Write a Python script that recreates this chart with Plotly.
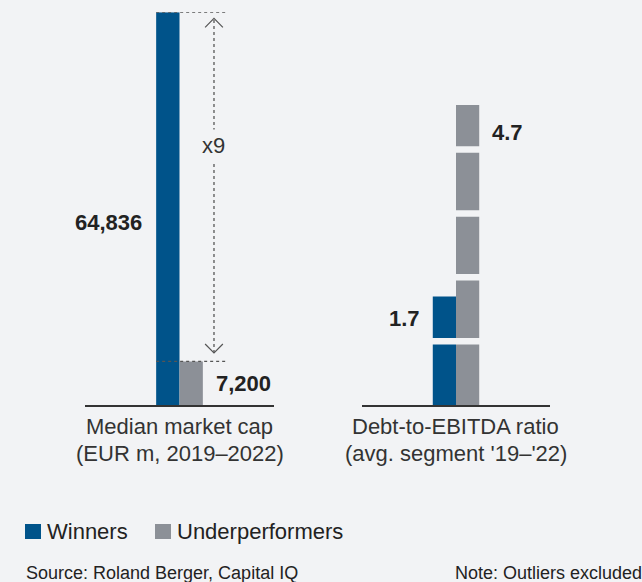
import plotly.graph_objects as go

# ---- data -------------------------------------------------------------
groups = ["Median market cap", "Debt-to-EBITDA ratio"]
group_subtitles = ["(EUR m, 2019–2022)", "(avg. segment '19–'22)"]
series_names = ["Winners", "Underperformers"]
market_cap = [64836, 7200]        # EUR m, Winners / Underperformers
debt_to_ebitda = [1.7, 4.7]       # ratio, Winners / Underperformers
multiple_label = "x9"
source_text = "Source: Roland Berger, Capital IQ"
note_text = "Note: Outliers excluded"

# ---- style ------------------------------------------------------------
W, H = 642, 582
BLUE = "#00538a"
GREY = "#8c9097"
BG = "#f2f3f5"
INK = "#222222"
LABEL_INK = "#333333"
FONT = "Liberation Sans, Arial, sans-serif"
colors = [BLUE, GREY]

BAR_W = 0.1235                    # width of one bar in category units
offsets = [-BAR_W, 0.0]           # Winners left of centre, Underperformers right

Y_DOMAIN = [(H - 405) / H, (H - 12.3) / H]
PLOT_H = (Y_DOMAIN[1] - Y_DOMAIN[0]) * H
CAP_MAX = max(market_cap)
RATIO_MAX = 6.15


def cap_px(px):
    """Convert a pixel distance into market-cap axis units."""
    return px * CAP_MAX / PLOT_H


fig = go.Figure()

for i, name in enumerate(series_names):
    fig.add_trace(go.Bar(
        x=[groups[0]], y=[market_cap[i]], name=name,
        width=BAR_W, offset=offsets[i],
        marker=dict(color=colors[i], line=dict(width=0)),
        xaxis="x", yaxis="y", showlegend=False, hoverinfo="skip",
    ))
    fig.add_trace(go.Bar(
        x=[groups[1]], y=[debt_to_ebitda[i]], name=name,
        width=BAR_W, offset=offsets[i],
        marker=dict(color=colors[i], line=dict(width=0)),
        xaxis="x2", yaxis="y2", showlegend=False, hoverinfo="skip",
    ))

shapes = []

# unit breaks across the ratio bars
for k in range(1, int(max(debt_to_ebitda)) + 1):
    if k < max(debt_to_ebitda):
        shapes.append(dict(
            type="line", xref="x2", yref="y2", x0=-BAR_W - 0.01, x1=BAR_W + 0.01,
            y0=k, y1=k, line=dict(color=BG, width=6.5), layer="above",
        ))

# reference lines at both market-cap values
ARROW_X = 0.1825
for v in market_cap:
    shapes.append(dict(
        type="line", xref="x", yref="y", x0=-BAR_W, x1=0.251, y0=v, y1=v,
        line=dict(color="#555555", width=1.3, dash="dot"), layer="above",
    ))

# double-headed dotted arrow between the two values
top_tip = market_cap[0] - cap_px(6)
bot_tip = market_cap[1] + cap_px(8.4)
shapes.append(dict(
    type="line", xref="x", yref="y", x0=ARROW_X, x1=ARROW_X,
    y0=bot_tip, y1=top_tip,
    line=dict(color="#555555", width=1.3, dash="dot"), layer="above",
))
for tip, sign in [(top_tip, -1), (bot_tip, 1)]:
    shapes.append(dict(
        type="path", xref="x", yref="y",
        path=(f"M {ARROW_X - 0.047},{tip + sign * cap_px(9)} "
              f"L {ARROW_X},{tip} L {ARROW_X + 0.047},{tip + sign * cap_px(9)}"),
        line=dict(color="#555555", width=1.2), layer="above",
    ))

# legend swatches
legend_x = [25, 155]
legend_text_x = [45, 175]
for i, name in enumerate(series_names):
    shapes.append(dict(
        type="rect", xref="paper", yref="paper",
        x0=legend_x[i] / W, x1=(legend_x[i] + 16) / W,
        y0=(H - 539) / H, y1=(H - 524) / H,
        fillcolor=colors[i], line=dict(width=0),
    ))

annotations = []
lab_font = dict(family=FONT, size=22, color=INK, weight="bold")

annotations.append(dict(
    xref="x", yref="y", x=-BAR_W, y=market_cap[0], xanchor="right", yanchor="middle",
    xshift=-12, yshift=-210, text=f"{market_cap[0]:,}", showarrow=False, font=lab_font,
))
annotations.append(dict(
    xref="x", yref="y", x=BAR_W, y=market_cap[1] / 2, xanchor="left", yanchor="middle",
    xshift=11, text=f"{market_cap[1]:,}", showarrow=False, font=lab_font,
))
annotations.append(dict(
    xref="x2", yref="y2", x=-BAR_W, y=debt_to_ebitda[0], xanchor="right", yanchor="middle",
    xshift=-11, yshift=-22, text=f"{debt_to_ebitda[0]:.1f}", showarrow=False, font=lab_font,
))
annotations.append(dict(
    xref="x2", yref="y2", x=BAR_W, y=debt_to_ebitda[1], xanchor="left", yanchor="middle",
    xshift=11, yshift=-28, text=f"{debt_to_ebitda[1]:.1f}", showarrow=False, font=lab_font,
))
annotations.append(dict(
    xref="x", yref="paper", x=ARROW_X, y=(H - 145) / H, xanchor="center", yanchor="middle",
    text=multiple_label, showarrow=False, bgcolor=BG, borderpad=3,
    font=dict(family=FONT, size=22, color=LABEL_INK),
))

# two-line category labels under each pair of bars
cat_font = dict(family=FONT, size=22, color=LABEL_INK)
for xr, title, sub in zip(["x", "x2"], groups, group_subtitles):
    for text, y_px in [(title, 426.5), (sub, 453)]:
        annotations.append(dict(
            xref=xr, yref="paper", x=title, y=(H - y_px) / H,
            xanchor="center", yanchor="middle",
            text=text, showarrow=False, font=cat_font,
        ))

for i, name in enumerate(series_names):
    annotations.append(dict(
        xref="paper", yref="paper", x=legend_text_x[i] / W, y=(H - 531.5) / H,
        xanchor="left", yanchor="middle", text=name, showarrow=False,
        font=dict(family=FONT, size=22, color=INK),
    ))

annotations.append(dict(
    xref="paper", yref="paper", x=24 / W, y=(H - 573) / H, xanchor="left",
    yanchor="middle", text=source_text, showarrow=False,
    font=dict(family=FONT, size=18, color=INK),
))
annotations.append(dict(
    xref="paper", yref="paper", x=453 / W, y=(H - 573) / H, xanchor="left",
    yanchor="middle", text=note_text, showarrow=False,
    font=dict(family=FONT, size=18, color=INK),
))

axis_common = dict(
    type="category", range=[-0.5, 0.5], autorange=False, automargin=False,
    showline=True, linecolor="#333333", linewidth=1.5,
    ticks="", showticklabels=False, showgrid=False, zeroline=False, fixedrange=True,
)
yaxis_common = dict(
    visible=False, showgrid=False, zeroline=False, domain=Y_DOMAIN,
    fixedrange=True, automargin=False,
)

fig.update_layout(
    width=W, height=H, autosize=False,
    margin=dict(l=0, r=0, t=0, b=0, pad=0, autoexpand=False),
    paper_bgcolor=BG, plot_bgcolor=BG,
    barmode="overlay",
    font=dict(family=FONT, color=INK),
    xaxis=dict(axis_common, domain=[85 / W, 274 / W], anchor="y"),
    xaxis2=dict(axis_common, domain=[362 / W, 550 / W], anchor="y2"),
    yaxis=dict(yaxis_common, range=[0, CAP_MAX], anchor="x"),
    yaxis2=dict(yaxis_common, range=[0, RATIO_MAX], anchor="x2"),
    shapes=shapes, annotations=annotations, showlegend=False,
)

fig.write_html("out.html")
